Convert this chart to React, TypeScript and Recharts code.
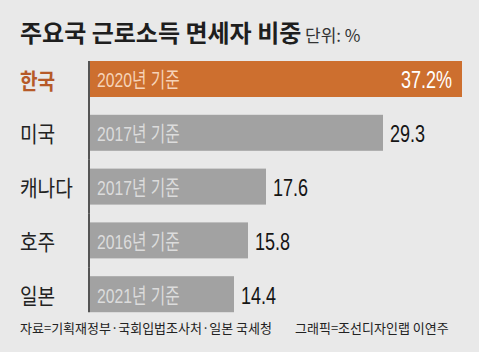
import React from 'react';
import { BarChart, Bar, XAxis, YAxis, LabelList, Cell } from 'recharts';

const countries = ['한국', '미국', '캐나다', '호주', '일본'];
const values = [37.2, 29.3, 17.6, 15.8, 14.4];
const baseYears = ['2020년 기준', '2017년 기준', '2017년 기준', '2016년 기준', '2021년 기준'];
const title = '주요국 근로소득 면세자 비중';
const unitNote = '단위: %';
const sourceNote = '자료=기획재정부·국회입법조사처·일본 국세청';
const creditNote = '그래픽=조선디자인랩 이연주';

const data = countries.map((name, i) => ({ name, value: values[i], basis: baseYears[i] }));

const BG = '#e9e9e9';
const ORANGE = '#cd6f2f';
const GRAY = '#a2a2a2';
const LAT = '"Liberation Sans", Arimo, Arial, "Noto Sans CJK KR", sans-serif';
const KR = '"Noto Sans CJK KR", "Noto Sans", sans-serif';
const GAP = 17.75;
const NARROW_SCALE = 0.75;
const KR_SCALE = 0.87;

const BarShape = (props: any) => {
  const { x, y, width, height, index, fill } = props;
  const top = index === 0 ? y : y - GAP / 2;
  const bottom = index === countries.length - 1 ? y + height : y + height + GAP / 2;
  return (
    <g>
      <rect x={x} y={y} width={width} height={height} fill={fill} />
      <line x1={x - 1} x2={x - 1} y1={top} y2={bottom} stroke="#222" strokeWidth={1.5} />
    </g>
  );
};

const CategoryTick = (props: any) => {
  const { y, payload, index } = props;
  const first = index === 0;
  return (
    <text
      transform={`translate(20 ${y}) scale(${KR_SCALE} 1)`}
      x={0}
      y={0}
      dominantBaseline="central"
      fontFamily={KR}
      fontSize={22}
      fontWeight={first ? 700 : 400}
      fill={first ? '#b65a28' : '#222'}
    >
      {payload.value}
    </text>
  );
};

const BasisLabel = (props: any) => {
  const { x, y, height, value, index } = props;
  return (
    <text
      transform={`translate(${x + 7} ${y + height / 2 + 1}) scale(${NARROW_SCALE} 1)`}
      x={0}
      y={0}
      dominantBaseline="central"
      fontFamily={LAT}
      fontSize={21}
      fill={index === 0 ? '#f6d3b8' : '#dcdcdc'}
    >
      {value}
    </text>
  );
};

const ValueLabel = (props: any) => {
  const { x, y, width, height, value, index } = props;
  const inside = index === 0;
  const tx = inside ? x + width - 10 : x + width + 7;
  return (
    <text
      transform={`translate(${tx} ${y + height / 2 + 1}) scale(${NARROW_SCALE} 1)`}
      x={0}
      y={0}
      dominantBaseline="central"
      textAnchor={inside ? 'end' : 'start'}
      fontFamily={LAT}
      fontSize={24}
      fill={inside ? '#ffffff' : '#151515'}
    >
      {inside ? `${value}%` : value}
    </text>
  );
};

export default function App() {
  return (
    <div style={{ position: 'absolute', left: 0, top: 0, width: 479, height: 352, background: BG }}>
      <BarChart
        width={479}
        height={352}
        data={data}
        layout="vertical"
        margin={{ top: 52, right: 9, bottom: 31, left: 0 }}
        barSize={36}
      >
        <XAxis type="number" domain={[0, 38]} hide />
        <YAxis
          type="category"
          dataKey="name"
          width={90}
          axisLine={false}
          tickLine={false}
          tick={<CategoryTick />}
        />
        <Bar dataKey="value" isAnimationActive={false} shape={<BarShape />}>
          {data.map((d, i) => (
            <Cell key={d.name} fill={i === 0 ? ORANGE : GRAY} />
          ))}
          <LabelList dataKey="basis" content={<BasisLabel />} />
          <LabelList dataKey="value" content={<ValueLabel />} />
        </Bar>
      </BarChart>
      <svg
        width={479}
        height={352}
        style={{ position: 'absolute', left: 0, top: 0, pointerEvents: 'none' }}
      >
        <text x={20} y={42} fontFamily={KR} fontSize={24} fontWeight={700} fill="#1e1e1e">
          {title}
        </text>
        <text x={305} y={42} fontFamily={KR} fontSize={17} fill="#333">
          {unitNote}
        </text>
        <text x={20} y={333} fontFamily={KR} fontSize={13} fill="#222">
          {sourceNote}
        </text>
        <text x={295} y={333} fontFamily={KR} fontSize={13} fill="#222">
          {creditNote}
        </text>
      </svg>
    </div>
  );
}
